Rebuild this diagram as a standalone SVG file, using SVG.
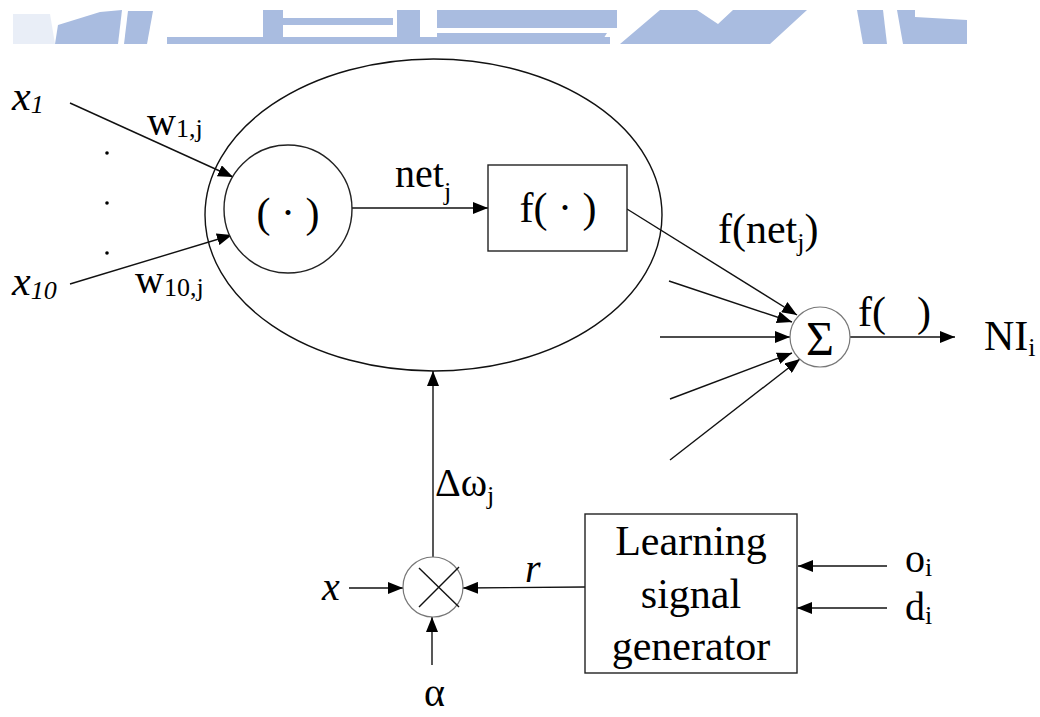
<svg xmlns="http://www.w3.org/2000/svg" width="1040" height="717" viewBox="0 0 1040 717">
<defs>
<marker id="ah" markerUnits="userSpaceOnUse" markerWidth="16" markerHeight="12" viewBox="0 0 16 12" refX="15" refY="6" orient="auto">
<path d="M0,0 L15,6 L0,12 z" fill="#000"/>
</marker>
<style>
.ln{stroke:#111;stroke-width:1.4;fill:none}
.ar{stroke:#111;stroke-width:1.4;fill:none;marker-end:url(#ah)}
.sh{stroke:#222;stroke-width:1.4;fill:#fff}
.gc{stroke:#777;stroke-width:1.2;fill:#fff}
.t{font-family:"Liberation Serif","Times New Roman",serif;fill:#000}
.it{font-style:italic}
.wm{fill:#a9bce0}
</style>
</defs>
<rect width="1040" height="717" fill="#fff"/>
<g id="watermark">
<polygon class="wm" points="13,44 13,14 50,14 55,44" opacity="0.25"/>
<polygon class="wm" points="55,44 58,25 100,12 122,10 118,44"/>
<polygon class="wm" points="128,11 153,11 147,44 124,44"/>
<rect class="wm" x="167" y="37" width="443" height="7"/>
<rect class="wm" x="263" y="10" width="20" height="34"/>
<rect class="wm" x="283" y="18" width="110" height="7"/>
<rect class="wm" x="397" y="10" width="23" height="34"/>
<rect class="wm" x="437" y="10" width="180" height="18"/>
<polygon class="wm" points="437,28 437,44 600,44 607,33 437,33"/>
<polygon class="wm" points="620,44 660,10 697,10 718,24 733,10 807,10 770,44"/>
<polygon class="wm" points="857,10 883,10 887,44 863,44"/>
<polygon class="wm" points="897,10 915,10 915,17 967,20 967,44 903,44"/>
</g>
<g id="connectors">
<line class="ar" x1="70" y1="103" x2="233" y2="177"/>
<line class="ar" x1="70" y1="284" x2="232" y2="235"/>
<line class="ar" x1="352" y1="208" x2="488" y2="208"/>
<line class="ar" x1="627" y1="209" x2="797" y2="315"/>
<line class="ar" x1="669" y1="281" x2="792" y2="322"/>
<line class="ar" x1="660" y1="337" x2="790" y2="337"/>
<line class="ar" x1="670" y1="399" x2="792" y2="353"/>
<line class="ar" x1="670" y1="460" x2="800" y2="359"/>
<line class="ar" x1="850" y1="337" x2="955" y2="337"/>
<line class="ar" x1="433" y1="558" x2="433" y2="371"/>
<line class="ar" x1="349" y1="588" x2="403" y2="588"/>
<line class="ar" x1="585" y1="587" x2="463" y2="588"/>
<line class="ar" x1="432" y1="665" x2="432" y2="617"/>
<line class="ar" x1="887" y1="566" x2="798" y2="566"/>
<line class="ar" x1="887" y1="608" x2="797" y2="608"/>
</g>
<g id="neuron">
<ellipse class="ln" cx="433.5" cy="215" rx="228.5" ry="156"/>
</g>
<g id="inner-product">
<circle class="sh" cx="288" cy="209" r="64"/>
<text class="t" x="288" y="227" font-size="42" text-anchor="middle">( · )</text>
</g>
<g id="activation">
<rect class="sh" x="488" y="165" width="139" height="86"/>
<text class="t" x="558" y="222" font-size="42" text-anchor="middle">f( · )</text>
</g>
<g id="sum">
<circle class="gc" cx="820" cy="337" r="30"/>
<text class="t" x="820" y="355" font-size="48" text-anchor="middle">Σ</text>
</g>
<g id="multiplier">
<circle class="gc" cx="433" cy="587" r="30"/>
<line class="ln" x1="419" y1="568" x2="459" y2="607"/>
<line class="ln" x1="419" y1="607" x2="459" y2="567"/>
</g>
<g id="learning-signal-generator">
<rect class="sh" x="585" y="514" width="212" height="159"/>
<text class="t" x="691" y="555" font-size="42" text-anchor="middle">Learning</text>
<text class="t" x="691" y="608" font-size="42" text-anchor="middle">signal</text>
<text class="t" x="691" y="660" font-size="42" text-anchor="middle">generator</text>
</g>
<g id="labels">
<text class="t it" x="12" y="110" font-size="42">x<tspan font-size="26" dy="3">1</tspan></text>
<text class="t it" x="12" y="295" font-size="42">x<tspan font-size="26" dy="4">10</tspan></text>
<circle cx="107" cy="153" r="1.8" fill="#000"/>
<circle cx="107" cy="203" r="1.8" fill="#000"/>
<circle cx="107" cy="253" r="1.8" fill="#000"/>
<text class="t" x="147" y="135" font-size="40">w<tspan font-size="26" dy="2">1,j</tspan></text>
<text class="t" x="135" y="293" font-size="40">w<tspan font-size="26" dy="3">10,j</tspan></text>
<text class="t" x="395" y="187" font-size="40">net<tspan font-size="26" dy="13">j</tspan></text>
<text class="t" x="718" y="243" font-size="42">f(net<tspan font-size="26" dy="8">j</tspan><tspan dy="-8">)</tspan></text>
<text class="t" x="858" y="326" font-size="42">f(<tspan x="917">)</tspan></text>
<text class="t" x="984" y="350" font-size="42">NI<tspan font-size="26" dy="6">i</tspan></text>
<text class="t" x="435" y="496" font-size="40">Δω<tspan font-size="26" dy="8">j</tspan></text>
<text class="t it" x="525" y="582" font-size="40">r</text>
<text class="t it" x="322" y="600" font-size="40">x</text>
<text class="t" x="424" y="706" font-size="40">α</text>
<text class="t" x="905" y="572" font-size="40">o<tspan font-size="26" dy="4">i</tspan></text>
<text class="t" x="905" y="620" font-size="40">d<tspan font-size="26" dy="4">i</tspan></text>
</g>
</svg>
